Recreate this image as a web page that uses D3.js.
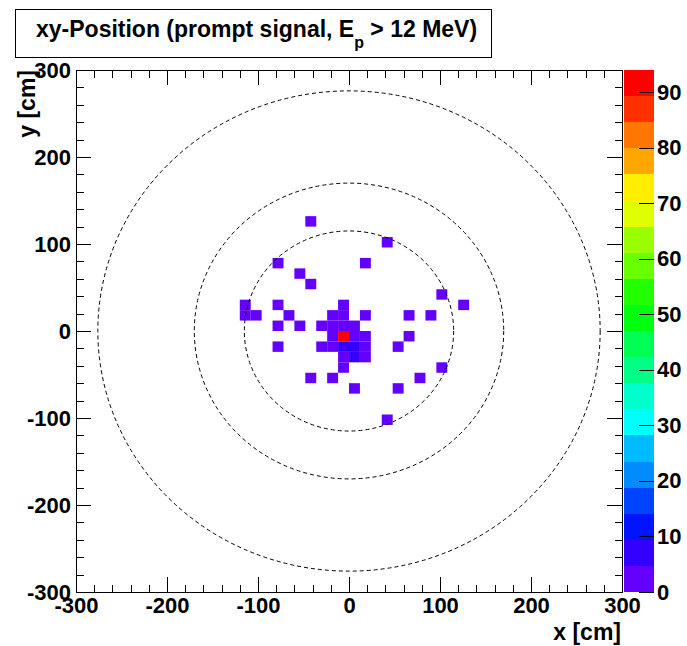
<!DOCTYPE html>
<html>
<head>
<meta charset="utf-8">
<script src="https://cdn.jsdelivr.net/npm/d3@7"></script>
<style>
  body { margin: 0; background: #fff; }
  svg { display: block; font-family: "Liberation Sans", Arial, sans-serif; font-weight: bold; }
</style>
</head>
<body>
<svg id="chart"></svg>
<script>
// bin centres in cm (bins are 12 x 12 cm), and their entries
let binX = [-42, 42, -78, 18, -54, -42, 102, -114, -78, -6, 126, -114, -102, -66, -18, -6,
  18, 66, 90, -78, -54, -30, -18, -6, 6, -18, -6, 6, 18, 66, -78, -30, -18, -6, 6, 18, 54,
  -6, 6, 18, -6, 102, -42, -18, 78, 6, 54, 42];
let binY = [126, 102, 78, 78, 66, 54, 42, 30, 30, 30, 30, 18, 18, 18, 18, 18, 18, 18, 18,
  6, 6, 6, 6, 6, 6, -6, -6, -6, -6, -6, -18, -18, -18, -18, -18, -18, -18,
  -30, -30, -30, -42, -42, -54, -54, -54, -66, -66, -102];
let binCount = [1, 1, 1, 1, 1, 1, 1, 1, 1, 2, 1, 1, 1, 1, 2, 3, 1, 1, 1,
  1, 1, 2, 3, 4, 3, 3, 94, 4, 3, 1, 1, 1, 3, 5, 5, 4, 1,
  3, 8, 2, 2, 1, 1, 1, 1, 1, 1, 1];
let binSize = 12;

// detector volumes drawn as dashed circles (cm)
let circleRadii = [115, 170, 276];

let axisTicks = [-300, -200, -100, 0, 100, 200, 300];
let zTicks = [0, 10, 20, 30, 40, 50, 60, 70, 80, 90];
let zMax = 94;
let nContours = 20;

let titleText = ["xy-Position (prompt signal, E", "p", " > 12 MeV)"];
let xTitle = "x [cm]";
let yTitle = "y [cm]";

function getConfig() {
  let width = 687;
  let height = 646;
  let margin = { top: 70, bottom: 54, left: 76, right: 65 };
  let bodyWidth = width - margin.left - margin.right;
  let bodyHeight = height - margin.top - margin.bottom;
  let container = d3.select("#chart")
    .attr("width", width)
    .attr("height", height);
  return { width, height, margin, bodyWidth, bodyHeight, container };
}

function getScales(config) {
  let { margin, bodyWidth, bodyHeight } = config;
  let x = d3.scaleLinear().domain([-300, 300])
    .range([margin.left, margin.left + bodyWidth]);
  let y = d3.scaleLinear().domain([-300, 300])
    .range([margin.top + bodyHeight, margin.top]);
  let z = d3.scaleLinear().domain([0, zMax])
    .range([margin.top + bodyHeight, margin.top]);
  return { x, y, z };
}

// ROOT "pretty" palette: 50 colours, hue 280 -> 0
function paletteColor(k) {
  let idx = Math.floor((k + 0.99) * 50 / nContours);
  let hue = 280 - (idx + 1) * (280 / 50);
  return d3.hsl(hue, 1, 0.5).toString();
}

function contourOf(v) {
  return Math.min(nContours - 1, Math.floor(v / (zMax / nContours)));
}

function drawBins(config, scales, bins) {
  let { container } = config;
  let { x, y } = scales;
  container.append("g")
    .selectAll("rect")
    .data(bins)
    .enter()
    .append("rect")
    .attr("x", d => x(d.x - binSize / 2))
    .attr("y", d => y(d.y + binSize / 2))
    .attr("width", d => x(d.x + binSize / 2) - x(d.x - binSize / 2))
    .attr("height", d => y(d.y - binSize / 2) - y(d.y + binSize / 2))
    .attr("fill", d => paletteColor(contourOf(d.n)));
}

function drawCircles(config, scales) {
  let { container } = config;
  let { x, y } = scales;
  container.append("g")
    .selectAll("ellipse")
    .data(circleRadii)
    .enter()
    .append("ellipse")
    .attr("cx", x(0))
    .attr("cy", y(0))
    .attr("rx", r => x(r) - x(0))
    .attr("ry", r => y(0) - y(r))
    .attr("fill", "none")
    .attr("stroke", "#000")
    .attr("stroke-width", 1)
    .attr("stroke-dasharray", "4,3");
}

function styleAxis(g) {
  g.select(".domain").remove();
  g.selectAll("line").attr("stroke", "#000").attr("shape-rendering", "crispEdges");
  g.selectAll("text").attr("fill", "#000").style("font-size", "22px");
}

// plain hyphen for negatives, like the original
let fmt = v => String(v);

function drawAxes(config, scales) {
  let { container, margin, bodyWidth, bodyHeight } = config;
  let { x, y } = scales;
  let minor = d3.range(-300, 301, 20).filter(v => v % 100 !== 0);
  let bottom = margin.top + bodyHeight;
  let right = margin.left + bodyWidth;

  let sides = [
    { make: d3.axisBottom, scale: x, pos: `translate(0,${bottom})`, labels: true },
    { make: d3.axisTop, scale: x, pos: `translate(0,${margin.top})`, labels: false },
    { make: d3.axisLeft, scale: y, pos: `translate(${margin.left},0)`, labels: true },
    { make: d3.axisRight, scale: y, pos: `translate(${right},0)`, labels: false }
  ];

  sides.forEach(s => {
    container.append("g")
      .attr("transform", s.pos)
      .call(s.make(s.scale).tickValues(minor).tickSize(-7.5).tickFormat(""))
      .call(styleAxis);
    container.append("g")
      .attr("transform", s.pos)
      .call(s.make(s.scale).tickValues(axisTicks).tickSize(-15).tickPadding(5)
        .tickFormat(s.labels ? fmt : ""))
      .call(styleAxis);
  });

  // frame
  container.append("rect")
    .attr("x", margin.left)
    .attr("y", margin.top)
    .attr("width", bodyWidth)
    .attr("height", bodyHeight)
    .attr("fill", "none")
    .attr("stroke", "#000")
    .attr("shape-rendering", "crispEdges");

  container.append("text")
    .attr("x", right - 1)
    .attr("y", 640)
    .attr("text-anchor", "end")
    .style("font-size", "23px")
    .text(xTitle);

  container.append("text")
    .attr("transform", `translate(35,${margin.top}) rotate(-90)`)
    .attr("text-anchor", "end")
    .style("font-size", "23px")
    .text(yTitle);
}

function drawPalette(config, scales) {
  let { container, margin, bodyWidth } = config;
  let { z } = scales;
  let x0 = margin.left + bodyWidth + 2;
  let w = 30;
  let step = zMax / nContours;

  container.append("g")
    .selectAll("rect")
    .data(d3.range(nContours))
    .enter()
    .append("rect")
    .attr("x", x0)
    .attr("y", k => z((k + 1) * step))
    .attr("width", w)
    .attr("height", k => z(k * step) - z((k + 1) * step))
    .attr("fill", k => paletteColor(k))
    .attr("shape-rendering", "crispEdges");

  container.append("g")
    .attr("transform", `translate(${x0 + w},0)`)
    .call(d3.axisRight(z).tickValues(zTicks).tickSize(-15).tickPadding(3))
    .call(styleAxis);
}

function drawTitle(config) {
  let { container } = config;
  container.append("rect")
    .attr("x", 15.5)
    .attr("y", 9.5)
    .attr("width", 476)
    .attr("height", 48)
    .attr("fill", "#fff")
    .attr("stroke", "#000");

  let t = container.append("text")
    .attr("x", 36)
    .attr("y", 37)
    .style("font-size", "23px");
  t.append("tspan").text(titleText[0]);
  t.append("tspan").attr("dy", 11).style("font-size", "16px").text(titleText[1]);
  t.append("tspan").attr("dy", -11).text(titleText[2]);
}

function loadData() {
  return Promise.all([
    binX.map((v, i) => ({ x: v, y: binY[i], n: binCount[i] }))
  ]).then(datasets => ({ bins: datasets[0] }));
}

function showData(data) {
  let config = getConfig();
  let scales = getScales(config);
  config.container.append("rect")
    .attr("width", config.width).attr("height", config.height).attr("fill", "#fff");
  drawBins(config, scales, data.bins);
  drawCircles(config, scales);
  drawAxes(config, scales);
  drawPalette(config, scales);
  drawTitle(config);
}

loadData().then(showData);
</script>
</body>
</html>
